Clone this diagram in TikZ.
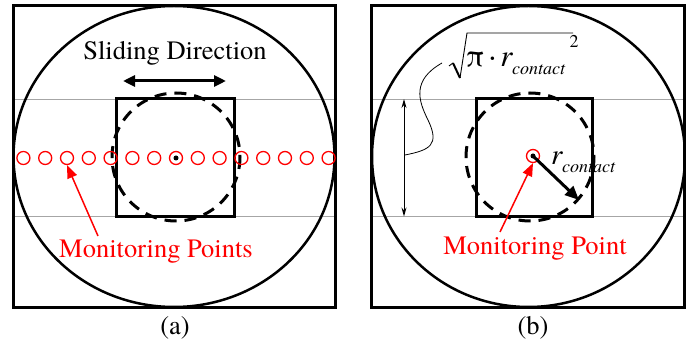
\documentclass[tikz,border=0pt]{standalone}
\usepackage{fontspec}
\setmainfont{TeX Gyre Termes}
\newfontfamily\tnr{TeX Gyre Termes}
\usetikzlibrary{arrows.meta}
\tikzset{
  frame/.style={line width=3pt, draw=black},
  disc/.style={line width=2.5pt, draw=black},
  contactsq/.style={line width=3pt, draw=black},
  dashcirc/.style={line width=3pt, draw=black, dash pattern=on 12pt off 8pt},
  guide/.style={line width=0.9pt, draw=black!35},
  mpt/.style={circle, draw=red, line width=1.3pt, minimum size=13pt, inner sep=0pt},
  cdot/.style={circle, fill=black, minimum size=5pt, inner sep=0pt},
  lbl/.style={font=\tnr\fontsize{26.5}{30}\selectfont, inner sep=0pt},
  redlbl/.style={lbl, text=red},
  redarrow/.style={red, line width=1.5pt, -{Triangle[length=13pt,width=10pt]}},
  bigarrow/.style={line width=3pt, -{Triangle[length=14pt,width=12pt]}},
  dimarrow/.style={line width=1pt, {Stealth[length=9pt,width=5pt]}-{Stealth[length=9pt,width=5pt]}}
}
\begin{document}
\begin{tikzpicture}[x=1pt,y=-1pt]
\useasboundingbox (0,0) rectangle (686,352);
% ---------- panel (a) ----------
\draw[guide] (13,99) -- (335,99);
\draw[guide] (13,216.5) -- (335,216.5);
\draw[frame] (13,6) rectangle (335,307.5);
\draw[disc] (174,156.5) ellipse [x radius=160.5, y radius=150.5];
\draw[contactsq] (116,99) rectangle (234,216.5);
\draw[dashcirc] (176,157) circle [radius=64];
\foreach \k in {-7,...,7} {
  \node[mpt] (pa\k) at ({176+\k*21.8},158) {};
}
\node[cdot] (ca) at (pa0.center) {};
\node[lbl, anchor=base] (slide) at (175,60) {Sliding Direction};
\coordinate (sl) at (123,81);
\coordinate (sr) at (226,81);
\draw[line width=3pt, {Triangle[length=12pt,width=11pt]}-{Triangle[length=12pt,width=11pt]}] (sl) -- (sr);
\node[redlbl, anchor=base] (mpa) at (156,258) {Monitoring Points};
\coordinate (mpatail) at (98,236);
\draw[redarrow] (mpatail) -- (pa-5.south);
\node[lbl, anchor=base] (capa) at (175,335) {(a)};
% ---------- panel (b) ----------
\draw[guide] (371,99) -- (686,99);
\draw[guide] (371,216.5) -- (686,216.5);
\draw[frame] (371,6) rectangle (684.5,307.5);
\draw[disc] (528.5,156.5) ellipse [x radius=156.5, y radius=150.5];
\draw[contactsq] (476,99) rectangle (592,216.5);
\draw[dashcirc] (530,157) circle [radius=64];
\node[mpt] (pb) at (533,156) {};
\node[cdot] (cb) at (pb.center) {};
\coordinate (rtip) at (579,200);
\draw[bigarrow] (cb.center) -- (rtip);
\node[anchor=base west, inner sep=0pt] (rlbl) at (551,165)
  {\tnr\fontsize{29}{30}\selectfont\textit{r}\kern-1pt\raisebox{-8pt}{\fontsize{18}{20}\selectfont\textit{contact}}};
\node[redlbl, anchor=base] (mpb) at (535,255) {Monitoring Point};
\coordinate (mpbtail) at (500,232);
\draw[redarrow] (mpbtail) -- (pb.south);
% dimension arrow
\coordinate (dtop) at (404,99);
\coordinate (dbot) at (404,216.5);
\draw[dimarrow] (dtop) -- (dbot);
% formula
\node[anchor=base west, inner sep=0pt] (formula) at (466,67)
  {\tnr\fontsize{31}{30}\selectfont π\kern4pt·\kern4pt\textit{r}\kern-1pt\raisebox{-8pt}{\fontsize{18}{20}\selectfont\textit{contact}}\kern4pt\raisebox{19pt}{\fontsize{18}{20}\selectfont 2}};
\coordinate (rad0) at (449,66);
\coordinate (rad1) at (453,63);
\coordinate (rad2) at (460,78);
\coordinate (rad3) at (467,33);
\coordinate (rad4) at (573,33);
\draw[line width=0.9pt, line join=miter] (rad0) -- (rad1);
\draw[line width=2pt] (rad1) -- (rad2);
\draw[line width=0.9pt] (rad2) -- (rad3) -- (rad4);
% leader curve
\coordinate (wstart) at (442,63);
\coordinate (wend) at (405,155);
\draw[line width=0.8pt] (wstart) .. controls (412,80) and (418,100) .. (428,120)
  .. controls (440,145) and (430,150) .. (wend);
\node[lbl, anchor=base] (capb) at (533,335) {(b)};
\end{tikzpicture}
\end{document}
